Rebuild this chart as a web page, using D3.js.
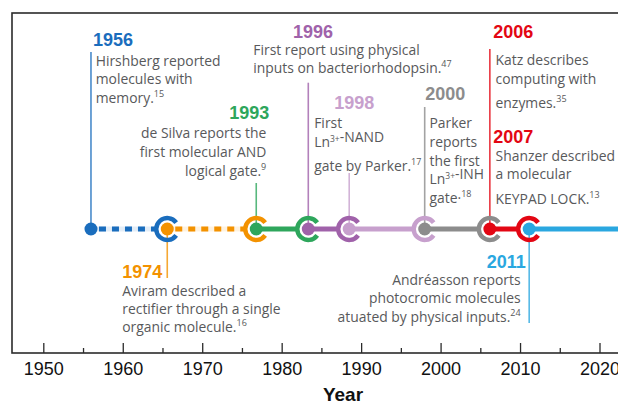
<!DOCTYPE html>
<html>
<head>
<meta charset="utf-8">
<script src="https://cdn.jsdelivr.net/npm/d3@7"></script>
<style>
  html, body { margin: 0; padding: 0; background: #fff; }
  svg { display: block; }
</style>
</head>
<body>
<svg id="chart" width="618" height="403"></svg>
<script>
// ---------------- DATA ----------------
const eventYears  = ["1956", "1974", "1993", "1996", "1998", "2000", "2006", "2011"];
// position of each marker along the year axis
const markerPos   = [1956, 1965.6, 1976.8, 1983.35, 1988.5, 1998.0, 2006.2, 2011.15];
const eventColors = ["#1a6dbd", "#f39200", "#2ea65c", "#a062aa", "#c7a0cd", "#8c8c8c", "#e30613", "#2aa7e0"];
const dashedSegments = [true, true, false, false, false, false, false];

const eventTexts = [
  ["Hirshberg reported", "molecules with", "memory.|15"],
  ["Aviram described a", "rectifier through a single", "organic molecule.|16"],
  ["de Silva reports the", "first molecular AND", "logical gate.|9"],
  ["First report using physical", "inputs on bacteriorhodopsin.|47"],
  ["First", "Ln^3+^-NAND", "gate by Parker.|17"],
  ["Parker", "reports", "the first", "Ln^3+^-INH", "gate·|18"],
  ["Katz describes", "computing with", "enzymes.|35"],
  ["Andréasson reports", "photocromic molecules", "atuated by physical inputs.|24"]
];
// extra event attached to the 2006 stem
const extraYear = "2007";
const extraText = ["Shanzer described", "a molecular", "KEYPAD LOCK.|13"];

const majorTicks = [1950, 1960, 1970, 1980, 1990, 2000, 2010, 2020];
const minorTicks = [1955, 1965, 1975, 1985, 1995, 2005, 2015];
const axisTitle = "Year";

// ---------------- LAYOUT ----------------
const svg = d3.select("#chart");
const W = 618, H = 403;
const axisY = 353, lineY = 229;
const x = d3.scaleLinear().domain([1950, 2020]).range([43.3, 599.5]);

const textGray = "#58595b";
const yearFont = "'Liberation Sans', Arial, sans-serif";
const bodyFont = "'Open Sans', 'Noto Sans', sans-serif";
const bodySize = 13.9;

// label layout per event: anchor, label dx, label baseline, text dx, text baselines, stem [y1,y2]
const layout = [
  {anchor: "start", ldx: 2,    ly: 46,    tdx: 4.7,  ty: [65.7, 84, 102.7],           stem: [52, lineY]},
  {anchor: "start", ldx: -45,  ly: 278,   tdx: -45,  ty: [296, 314.3, 331.7],         stem: [lineY, 278]},
  {anchor: "end",   ldx: 13,   ly: 119.3, tdx: 10,   ty: [138, 156.7, 175.7],         stem: [183, lineY]},
  {anchor: "start", ldx: -15.3,ly: 37.7,  tdx: -55,  ty: [55, 73.3],                  stem: [82.7, lineY]},
  {anchor: "start", ldx: -15,  ly: 109.3, tdx: -35,  ty: [128.3, 146.7, 170.7],       stem: [173, lineY]},
  {anchor: "start", ldx: 0.5,  ly: 100,   tdx: 4.8,  ty: [128.3, 146.7, 165.7, 184.3, 203], stem: [107, lineY]},
  {anchor: "start", ldx: 3.3,  ly: 37.7,  tdx: 5.7,  ty: [65, 84, 108.3],             stem: [49, lineY]},
  {anchor: "end",   ldx: -3.3, ly: 268.3, tdx: -8.6, ty: [285, 303.3, 321.7],         stem: [lineY, 323]}
];
const extraLayout = {ly: 143.3, ty: [161, 179, 204]};

// ---------------- FRAME ----------------
svg.append("rect")
  .attr("x", 12).attr("y", 13).attr("width", 720).attr("height", axisY - 13)
  .attr("fill", "none").attr("stroke", "#2b2b2b").attr("stroke-width", 1.6);

// ---------------- AXIS ----------------
const gMajor = svg.append("g").attr("transform", `translate(0,${axisY})`)
  .call(d3.axisBottom(x).tickValues(majorTicks).tickFormat(d3.format("d"))
    .tickSize(-10).tickSizeOuter(0).tickPadding(9));
gMajor.select(".domain").remove();
gMajor.selectAll("line").attr("stroke", "#2b2b2b").attr("stroke-width", 1.3);
gMajor.selectAll("text").attr("font-family", yearFont).attr("font-size", 18).attr("fill", "#111");

const gMinor = svg.append("g").attr("transform", `translate(0,${axisY})`)
  .call(d3.axisBottom(x).tickValues(minorTicks).tickFormat("").tickSize(-5).tickSizeOuter(0));
gMinor.select(".domain").remove();
gMinor.selectAll("line").attr("stroke", "#2b2b2b").attr("stroke-width", 1.3);

svg.append("text").attr("x", 343).attr("y", 401).attr("text-anchor", "middle")
  .attr("font-family", yearFont).attr("font-weight", "bold").attr("font-size", 19)
  .attr("fill", "#111").text(axisTitle);

// ---------------- TIMELINE ----------------
const ringOuter = 13.2, ringInner = 8.8, dotR = 6.5;
const gap = 0.62;

// stems
layout.forEach((L, i) => {
  svg.append("line")
    .attr("x1", x(markerPos[i])).attr("x2", x(markerPos[i]))
    .attr("y1", L.stem[0]).attr("y2", L.stem[1])
    .attr("stroke", eventColors[i]).attr("stroke-opacity", 0.8).attr("stroke-width", 1.6);
});

// segments
for (let i = 0; i < markerPos.length; i++) {
  const x1 = x(markerPos[i]);
  const x2 = i < markerPos.length - 1 ? x(markerPos[i + 1]) - ringOuter + 1 : W + 5;
  const dashed = dashedSegments[i];
  if (dashed) {
    svg.append("line").attr("x1", x1).attr("x2", x2).attr("y1", lineY).attr("y2", lineY)
      .attr("stroke", eventColors[i]).attr("stroke-opacity", 0.12).attr("stroke-width", 5);
  }
  svg.append("line").attr("x1", x1).attr("x2", x2).attr("y1", lineY).attr("y2", lineY)
    .attr("stroke", eventColors[i]).attr("stroke-width", 5)
    .attr("stroke-dasharray", dashed ? "7,6" : null)
    .attr("stroke-dashoffset", dashed ? -8 : null);
}

// rings (color of previous event) and dots
const arc = d3.arc().innerRadius(ringInner).outerRadius(ringOuter)
  .startAngle(Math.PI / 2 + gap).endAngle(Math.PI / 2 + 2 * Math.PI - gap);
markerPos.forEach((p, i) => {
  const cx = x(p);
  if (i > 0) {
    svg.append("path").attr("d", arc())
      .attr("transform", `translate(${cx},${lineY})`)
      .attr("fill", eventColors[i - 1]);
  }
  svg.append("circle").attr("cx", cx).attr("cy", lineY).attr("r", dotR).attr("fill", eventColors[i]);
});

// ---------------- TEXT ----------------
function writeLine(sel, str) {
  // "|" starts a superscript ref; ^..^ marks inline superscript
  const [main, sup] = str.split("|");
  const parts = main.split("^");
  parts.forEach((part, k) => {
    if (k % 2 === 1) {
      sel.append("tspan").attr("font-size", 8.5).attr("dy", -5).text(part);
      sel.append("tspan").attr("dy", 5).text("");
    } else if (part) {
      sel.append("tspan").text(part);
    }
  });
  if (sup) sel.append("tspan").attr("font-size", 9).attr("dy", -6).text(sup);
}

function yearLabel(xp, y, anchor, color, txt) {
  svg.append("text").attr("x", xp).attr("y", y).attr("text-anchor", anchor)
    .attr("font-family", yearFont).attr("font-weight", "bold").attr("font-size", 18)
    .attr("fill", color).text(txt);
}
function bodyLines(xp, ys, anchor, lines) {
  lines.forEach((ln, k) => {
    const t = svg.append("text").attr("x", xp).attr("y", ys[k]).attr("text-anchor", anchor)
      .attr("font-family", bodyFont).attr("font-size", bodySize).attr("fill", textGray);
    writeLine(t, ln);
  });
}

layout.forEach((L, i) => {
  const cx = x(markerPos[i]);
  yearLabel(cx + L.ldx, L.ly, L.anchor, eventColors[i], eventYears[i]);
  bodyLines(cx + L.tdx, L.ty, L.anchor, eventTexts[i]);
});
// 2007 on the 2006 stem
{
  const cx = x(markerPos[6]);
  yearLabel(cx + layout[6].ldx, extraLayout.ly, "start", eventColors[6], extraYear);
  bodyLines(cx + layout[6].tdx, extraLayout.ty, "start", extraText);
}
</script>
</body>
</html>
